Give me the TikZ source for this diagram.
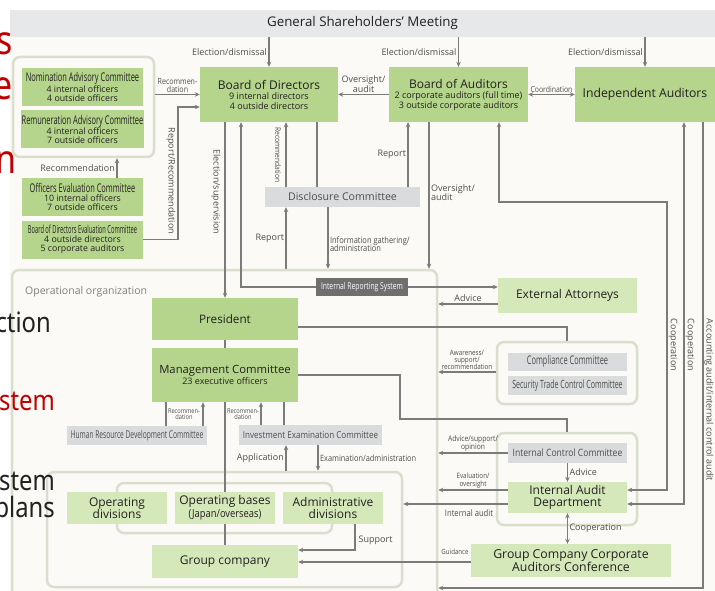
\documentclass[tikz,border=0pt]{standalone}
\usepackage{fontspec}
\setmainfont{Open Sans}
\newfontfamily\semifont[FakeStretch=0.85]{Open Sans}
\newfontfamily\condfont[FakeStretch=0.72]{Open Sans}
\newfontfamily\narrowfont[FakeStretch=0.62]{Open Sans}
\newfontfamily\xnarrowfont[FakeStretch=0.52]{Open Sans}
\newfontfamily\slidefont[FakeStretch=0.85]{Noto Sans}
\usetikzlibrary{arrows.meta}

\definecolor{bgcol}{HTML}{FBFAF6}
\definecolor{barcol}{HTML}{E7E8E9}
\definecolor{grn}{HTML}{B5D58C}
\definecolor{ltgrn}{HTML}{D5E8B9}
\definecolor{cmtgray}{HTML}{D9DBDD}
\definecolor{framecol}{HTML}{DADFCD}
\definecolor{linecol}{HTML}{7B7B7B}
\definecolor{irscol}{HTML}{6F6F6F}
\definecolor{txtcol}{HTML}{231F20}
\definecolor{lblcol}{HTML}{4D4D4D}
\definecolor{fragred}{HTML}{C00000}
\definecolor{fragblack}{HTML}{222222}

\newcommand\orgbig{\fontsize{12}{13}\selectfont}
\newcommand\orgsub{\fontsize{9}{10}\selectfont}
\newcommand\orgcmt{\narrowfont\fontsize{12}{12}\selectfont}

\tikzset{
  orgbox/.style={inner sep=1pt, align=center, text=txtcol, font=\orgsub},
  board/.style={orgbox, fill=grn},
  advbox/.style={board, minimum width=121, minimum height=38, font=\fontsize{8.8}{9}\selectfont},
  unit/.style={orgbox, fill=ltgrn, font=\fontsize{12}{12.5}\selectfont},
  cmte/.style={orgbox, fill=cmtgray, text=lblcol, font=\orgcmt},
  grpframe/.style={draw=framecol, line width=2.5pt, rounded corners=7pt},
  conn/.style={draw=linecol, line width=1.1pt},
  lbl/.style={text=lblcol, font=\fontsize{9}{9.5}\selectfont, inner sep=1.5pt, align=center},
  slbl/.style={lbl, font=\semifont\fontsize{#1}{#1}\selectfont},
  vlbl/.style={lbl, rotate=-90},
  slide/.style={anchor=base east, inner sep=0pt, text=fragblack, font=\slidefont\fontsize{28}{28}\selectfont},
}

\begin{document}
\begin{tikzpicture}[x=1pt,y=-1pt,>={Stealth[length=5pt,width=4.5pt]}]
\useasboundingbox (0,0) rectangle (715,591);
\fill[white] (0,0) rectangle (715,591);
\fill[bgcol] (10,10) rectangle (715,591);

% frames
\node[grpframe, minimum width=141, minimum height=100] (advgrp) at (83.5,107) {};
\node[grpframe, minimum width=425, minimum height=330] (opbox) at (224.5,435) {};
\node[grpframe, minimum width=355, minimum height=115] (bizbox) at (224.5,529.5) {};
\node[grpframe, minimum width=215, minimum height=50] (basegrp) at (224.5,508) {};
\node[grpframe, minimum width=140, minimum height=62] (compgrp) at (567,373) {};
\node[grpframe, minimum width=140, minimum height=92] (ctrlgrp) at (567,479) {};
\node[anchor=west, text=gray, inner sep=0pt, font=\fontsize{10.5}{11}\selectfont] (opl) at (25,292) {Operational organization};

% boxes
\node[fill=barcol, minimum width=705, minimum height=27, inner sep=0pt, text=txtcol, font=\fontsize{13.3}{14}\selectfont] (gsm) at (362.5,23.5) {General Shareholders' Meeting};
\node[advbox] (nac) at (82.5,87) {{\orgcmt Nomination Advisory Committee}\\4 internal officers\\4 outside officers};
\node[advbox] (rac) at (82.5,129.5) {{\orgcmt Remuneration Advisory Committee}\\4 internal officers\\7 outside officers};
\node[advbox] (oec) at (82.5,197) {{\orgcmt Officers Evaluation Committee}\\10 internal officers\\7 outside officers};
\node[advbox] (bdec) at (82.5,239.5) {{\xnarrowfont\fontsize{11}{11}\selectfont Board of Directors Evaluation Committee}\\4 outside directors\\5 corporate auditors};
\node[board, minimum width=138, minimum height=55] (bod) at (269,94.5) {{\orgbig Board of Directors}\\9 internal directors\\4 outside directors};
\node[board, minimum width=139, minimum height=55] (boa) at (458.5,94.5) {{\orgbig Board of Auditors}\\2 corporate auditors (full time)\\3 outside corporate auditors};
\node[board, minimum width=140, minimum height=55, font=\fontsize{12.2}{13}\selectfont] (ia) at (645,94.5) {Independent Auditors};
\node[cmte, minimum width=155, minimum height=20, font=\fontsize{10.6}{11}\selectfont] (dc) at (342.5,197) {Disclosure Committee};
\node[fill=irscol, text=white, inner sep=1pt, minimum width=92, minimum height=18, font=\condfont\fontsize{9.4}{10}\selectfont] (irs) at (362,287) {Internal Reporting System};
\node[unit, minimum width=139, minimum height=35] (ea) at (567.5,295.5) {External Attorneys};
\node[board, minimum width=146, minimum height=42, font=\fontsize{11.7}{12}\selectfont] (pres) at (225,319) {President};
\node[board, minimum width=146, minimum height=54] (mc) at (225,375) {{\fontsize{11.3}{12}\selectfont Management Committee}\\[1pt]23 executive officers};
\node[cmte, minimum width=140, minimum height=19, font=\narrowfont\fontsize{10.7}{11}\selectfont] (hrdc) at (137,435.5) {Human Resource Development Committee};
\node[cmte, minimum width=143, minimum height=20, font=\semifont\fontsize{9.5}{10}\selectfont] (iec) at (310.5,435) {Investment Examination Committee};
\node[cmte, minimum width=119, minimum height=18] (cc) at (567.5,361.5) {Compliance Committee};
\node[cmte, minimum width=119, minimum height=19, font=\narrowfont\fontsize{11.3}{12}\selectfont] (stcc) at (567.5,385.5) {Security Trade Control Committee};
\node[cmte, minimum width=119, minimum height=20, font=\semifont\fontsize{10.1}{11}\selectfont] (icc) at (567.5,453) {Internal Control Committee};
\node[unit, minimum width=119, minimum height=31] (iad) at (567.5,497.5) {Internal Audit\\Department};
\node[unit, minimum width=200, minimum height=33, font=\fontsize{12.3}{12.5}\selectfont] (gccac) at (571,560.5) {Group Company Corporate\\Auditors Conference};
\node[unit, minimum width=100, minimum height=32] (od) at (117,508) {Operating\\divisions};
\node[unit, minimum width=100, minimum height=32] (ob) at (225,508) {Operating bases\\{\semifont\fontsize{11}{11}\selectfont (Japan/overseas)}};
\node[unit, minimum width=100, minimum height=32] (ad) at (333,508) {Administrative\\divisions};
\node[unit, minimum width=146, minimum height=33] (gc) at (225,561.5) {Group company};

% governance
\draw[conn,->] (gsm.south -| bod.north) -- node[lbl,left]{Election/dismissal} (bod.north);
\draw[conn,->] (gsm.south -| boa.north) -- node[lbl,left]{Election/dismissal} (boa.north);
\draw[conn,->] (gsm.south -| ia.north) -- node[lbl,left]{Election/dismissal} (ia.north);
\draw[conn,->] (advgrp.east |- bod.west) -- node[slbl=8.3,above]{Recommen-\\dation} (bod.west);
\draw[conn,->] (bdec.east) -| (178,107) -- (bod.west |- 178,107);
\node[vlbl] (lrr) at (171,181) {Report/Recommendation};
\draw[conn,->] (oec.north -| 117,0) -- node[lbl,left]{Recommendation} (advgrp.south -| 117,0);
\draw[conn,->] (boa.west) -- node[lbl,above]{Oversight/\\audit} (bod.east);
\draw[conn,<->] (boa.east) -- node[slbl=8.1,above]{Coordination} (ia.west);

% board to operations
\draw[conn,->] (bod.south -| pres.north) -- (pres.north);
\node[vlbl] (les) at (216,192) {Election/supervision};
\draw[conn,->] (irs.west) -| (bod.south -| 241,0);
\draw[conn,->] (irs.east) -- (ea.west |- irs.east);
\draw[conn,->] (dc.north -| 286,0) -- (bod.south -| 286,0);
\node[slbl=7.8, rotate=-90] (lrec) at (278,155) {Recommendation};
\draw[conn] (bod.south -| 317,0) -- (dc.north -| 317,0);
\draw[conn,->] (dc.north -| 408,0) -- node[lbl,left]{Report} (boa.south -| 408,0);
\draw[conn,->] (opbox.north -| 286,0) -- node[lbl,left]{Report} (dc.south -| 286,0);
\draw[conn,->] (dc.south -| 328,0) -- node[slbl=8.8,right,align=left,pos=.6]{Information gathering/\\administration} (opbox.north -| 328,0);
\draw[conn,->] (boa.south -| 429,0) -- node[lbl,right,align=left,pos=.48]{Oversight/\\audit} (opbox.north -| 429,0);

% right side
\draw[conn,->] (ea.west |- 0,304) -- node[lbl,above]{Advice} (opbox.east |- 0,304);
\draw[conn] (pres.east |- 0,327) -| (compgrp.north);
\draw[conn] (mc.east) -| (400,419) -| (ctrlgrp.north);
\draw[conn,->] (compgrp.west |- 0,372) -- node[slbl=7.4,above]{Awareness/\\support/\\recommendation} (opbox.east |- 0,372);
\draw[conn,->] (icc.west) -- node[slbl=7.9,above]{Advice/support/\\opinion} (opbox.east |- icc.west);
\draw[conn,->] (iad.west |- 0,490) -- node[slbl=7.4,above]{Evaluation/\\oversight} (opbox.east |- 0,490);
\draw[conn,->] (iad.west |- 0,504) -- (bizbox.east |- 0,504);
\node[slbl=9] (lia) at (469,513) {Internal audit};
\draw[conn,->] (icc.south) -- node[lbl,right]{Advice} (iad.north);
\draw[conn,<->] (iad.south) -- node[lbl,right]{Cooperation} (iad.south |- gccac.north);
\draw[conn,->] (gccac.west |- 0,562) -- (gc.east |- 0,562);
\node[slbl=7.2] (lgd) at (455,552) {Guidance};
\draw[conn,->] (ad.south -| 355,0) |- (gc.east |- 0,550);
\node[lbl, anchor=west] (lsup) at (357,540) {Support};
\draw[conn,<->] (boa.south -| 499,0) -- (499,202) -| (667,490) -- (iad.east |- 0,490);
\node[vlbl] (lco1) at (673,345) {Cooperation};
\draw[conn,<->] (ia.south -| 684,0) |- (iad.east |- 0,504);
\node[vlbl] (lco2) at (690,345) {Cooperation};
\draw[conn,->] (ia.south -| 703,0) |- (opbox.east |- 0,588);
\node[vlbl] (lacc) at (709,400) {Accounting audit/internal control audit};

% management
\draw[conn] (pres.south) -- (mc.north);
\draw[conn] (mc.south) -- (ob.north);
\draw[conn] (ob.south) -- (gc.north);
\draw[conn] (hrdc.north -| 166,0) -- (mc.south -| 166,0);
\draw[conn,->] (hrdc.north -| 203,0) -- (mc.south -| 203,0);
\node[slbl=6.7] (lrh) at (184,414) {Recommen-\\dation};
\draw[conn,->] (iec.north -| 261,0) -- (mc.south -| 261,0);
\node[slbl=6.7] (lri) at (243,414) {Recommen-\\dation};
\draw[conn] (iec.north -| 284,0) -- (mc.south -| 284,0);
\draw[conn,->] (bizbox.north -| 286,0) -- node[lbl,left]{Application} (iec.south -| 286,0);
\draw[conn,->] (iec.south -| 318,0) -- node[slbl=8.7,right]{Examination/administration} (bizbox.north -| 318,0);

% slide behind
\node[slide, text=fragred, font=\slidefont\bfseries\fontsize{40}{40}\selectfont] (fs1) at (13,55) {s};
\node[slide, text=fragred, font=\slidefont\bfseries\fontsize{40}{40}\selectfont] (fs2) at (13,100) {e};
\node[slide, text=fragred, font=\slidefont\bfseries\fontsize{40}{40}\selectfont] (fs3) at (17,173) {n};
\node[slide] (fs4) at (51,332) {ction};
\node[slide, text=fragred] (fs5) at (55,410) {stem};
\node[slide] (fs6) at (55,490) {stem};
\node[slide] (fs7) at (55,517) {plans};
\end{tikzpicture}
\end{document}
